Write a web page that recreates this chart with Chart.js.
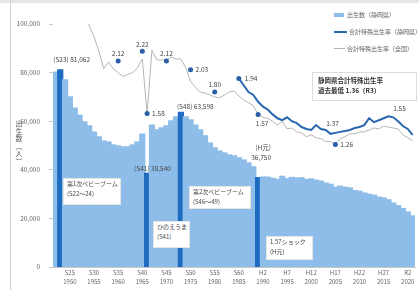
<!DOCTYPE html>
<html>
<head>
<meta charset="utf-8">
<script src="https://cdn.jsdelivr.net/npm/chart.js"></script>
<style>
  html, body { margin: 0; padding: 0; background: #fff; overflow: hidden; }
  #wrap { position: relative; width: 419px; height: 290px; overflow: hidden; font-family: "Noto Sans CJK JP", sans-serif; }
  #wrap canvas { position: absolute; left: 0; top: 0; }
  .frame-top { position: absolute; left: 0; top: 0; width: 419px; height: 3px; background: #e6e6e6; }
  .frame-left { position: absolute; left: 10px; top: 0; width: 1px; height: 290px; background: #d4d4d4; }
  .ytitle { position: absolute; left: 15px; top: 120px; width: 8px; font-size: 7px; line-height: 7.5px; color: #555; text-align: center; }
  .ytitle span { display: block; }
  .note { position: absolute; background: #fff; border: 1px solid #e4e4e4; font-size: 6px; line-height: 10px; color: #444; padding: 0 3px; white-space: nowrap; box-sizing: border-box; }
  .legend { position: absolute; font-size: 6px; color: #666; white-space: nowrap; }
  .legend span { position: absolute; }
  .box { position: absolute; left: 312px; top: 72px; width: 105px; height: 29px; border: 1px solid #dcdcdc; background: #fff; box-sizing: border-box; padding: 2px 5px; font-size: 6.5px; line-height: 10px; font-weight: bold; color: #333; white-space: nowrap; }
</style>
</head>
<body>
<div id="wrap">
  <canvas id="birthChart" width="419" height="290"></canvas>
  <div class="frame-top"></div>
  <div class="frame-left"></div>
  <div class="ytitle"><span>出</span><span>生</span><span>数</span><span>︵</span><span>人</span><span>︶</span></div>

  <div class="note" style="left:63px;top:178px;width:58px;height:27px;">第1次ベビーブーム<br>(S22～24)</div>
  <div class="note" style="left:153px;top:221px;width:37px;height:27px;">ひのえうま<br>(S41)</div>
  <div class="note" style="left:189px;top:186px;width:62px;height:23px;">第2次ベビーブーム<br>(S46～49)</div>
  <div class="note" style="left:266px;top:236px;width:47px;height:24px;">1.57ショック<br>(H元)</div>

  <div class="legend">
    <span style="left:334px;top:13px;width:10px;height:4px;background:#8fbde9;"></span>
    <span style="left:347px;top:10px;">出生数（静岡県）</span>
    <span style="left:334px;top:31px;width:13px;height:2px;background:#2a67b1;"></span>
    <span style="left:349px;top:27px;">合計特殊出生率（静岡県）</span>
    <span style="left:334px;top:48px;width:11px;height:1px;background:#b5b5b5;"></span>
    <span style="left:347px;top:44px;">合計特殊出生率（全国）</span>
  </div>

  <div class="box">静岡県合計特殊出生率<br>過去最低 1.36（R3）</div>
</div>

<script>
    // categories: 1947 - 2021
    const years = [
        1947, 1948, 1949,
        1950, 1951, 1952, 1953, 1954, 1955, 1956, 1957, 1958, 1959,
        1960, 1961, 1962, 1963, 1964, 1965, 1966, 1967, 1968, 1969,
        1970, 1971, 1972, 1973, 1974, 1975, 1976, 1977, 1978, 1979,
        1980, 1981, 1982, 1983, 1984, 1985, 1986, 1987, 1988, 1989,
        1990, 1991, 1992, 1993, 1994, 1995, 1996, 1997, 1998, 1999,
        2000, 2001, 2002, 2003, 2004, 2005, 2006, 2007, 2008, 2009,
        2010, 2011, 2012, 2013, 2014, 2015, 2016, 2017, 2018, 2019,
        2020, 2021
    ];

    // births (prefecture)
    const births = [
        80200, 81062, 77000,
        70000, 65400, 62500, 59700, 58000, 55500, 53500, 51800, 51400, 50200,
        49800, 49400, 49400, 50200, 51400, 54700, 38540, 58400, 56400, 57200,
        58000, 60100, 61700, 63598, 61700, 60500, 58400, 56400, 53900, 51000,
        49000, 47700, 46900, 46100, 45700, 44900, 44000, 42800, 41200, 36750,
        37000, 36900, 36500, 36000, 37300, 36300, 36800, 36600, 36700, 36000,
        36200, 35700, 35300, 34500, 34000, 32800, 33200, 32800, 32500, 31400,
        31100, 30400, 29900, 29500, 28700, 28400, 27600, 26300, 25200, 24000,
        22600, 21000
    ];

    // total fertility rate, whole country
    const tfrNational = [
        4.54, 4.40, 4.32,
        3.65, 3.26, 2.98, 2.69, 2.48, 2.37, 2.22, 2.04, 2.11, 2.04,
        2.00, 1.96, 1.98, 2.00, 2.05, 2.14, 1.58, 2.23, 2.13, 2.13,
        2.13, 2.16, 2.14, 2.14, 2.05, 1.91, 1.85, 1.80, 1.79, 1.77,
        1.75, 1.74, 1.77, 1.80, 1.81, 1.76, 1.72, 1.69, 1.66, 1.57,
        1.54, 1.53, 1.50, 1.46, 1.50, 1.42, 1.43, 1.39, 1.38, 1.34,
        1.36, 1.33, 1.32, 1.29, 1.29, 1.26, 1.32, 1.34, 1.37, 1.37,
        1.39, 1.39, 1.41, 1.43, 1.42, 1.45, 1.44, 1.43, 1.42, 1.36,
        1.33, 1.30
    ];

    // prefecture TFR, yearly from 1985
    const prefStartYear = 1985;
    const tfrPref = [
        1.94, 1.87, 1.80, 1.77, 1.70,
        1.65, 1.62, 1.57, 1.53, 1.51, 1.54, 1.50, 1.48, 1.44, 1.42,
        1.41, 1.46, 1.42, 1.41, 1.37, 1.38, 1.39, 1.40, 1.41, 1.43,
        1.44, 1.46, 1.53, 1.49, 1.51, 1.53, 1.55, 1.54, 1.50, 1.45,
        1.42, 1.36
    ];

    // prefecture TFR before 1985 (single years only)
    const prefDotYears = [1960, 1965, 1966, 1970, 1975, 1980];
    const prefDotValues = [2.12, 2.22, 1.58, 2.12, 2.03, 1.80];

    // highlighted bars
    const highlightYears = [1948, 1966, 1973, 1989];
    const highlightEras = ['S23', 'S41', 'S48', 'H元'];

    // x tick labels
    const tickYears = [1950, 1955, 1960, 1965, 1970, 1975, 1980, 1985, 1990, 1995, 2000, 2005, 2010, 2015, 2020];
    const tickEras = ['S25', 'S30', 'S35', 'S40', 'S45', 'S50', 'S55', 'S60', 'H2', 'H7', 'H12', 'H17', 'H22', 'H27', 'R2'];

    const LIGHT = '#8fbde9';
    const DARK = '#1e6cc0';
    const FONT = '"Noto Sans CJK JP", sans-serif';

    Chart.defaults.font.family = FONT;

    // align the sparse series with the year axis
    const prefLine = years.map(y => {
        const k = y - prefStartYear;
        return k >= 0 && k < tfrPref.length ? tfrPref[k] : null;
    });
    const prefDots = years.map(y => {
        const k = prefDotYears.indexOf(y);
        return k < 0 ? null : prefDotValues[k];
    });
    const barColors = years.map(y => highlightYears.includes(y) ? DARK : LIGHT);

    // where value labels go (dataset index, year, offset)
    const tfrNotes = [
        { ds: 1, year: 1960, dx: 0, dy: -7, align: 'center' },
        { ds: 1, year: 1965, dx: 0, dy: -7, align: 'center' },
        { ds: 1, year: 1966, dx: 5, dy: 0, align: 'left' },
        { ds: 1, year: 1970, dx: 0, dy: -7, align: 'center' },
        { ds: 1, year: 1975, dx: 5, dy: 0, align: 'left' },
        { ds: 1, year: 1980, dx: 0, dy: -8, align: 'center' },
        { ds: 2, year: 1985, dx: 6, dy: 0, align: 'left' },
        { ds: 2, year: 2004, dx: 2, dy: -10, align: 'center' },
        { ds: 2, year: 2016, dx: 11, dy: -8, align: 'center' },
        { ds: 3, year: 1989, dx: 4, dy: 9, align: 'center' },
        { ds: 3, year: 2005, dx: 5, dy: 0, align: 'left' }
    ];
    const birthNotes = [
        { year: 1948, dx: -7, dy: -10, align: 'left', split: false },
        { year: 1966, dx: -13, dy: -5, align: 'left', split: false },
        { year: 1973, dx: -4, dy: -6, align: 'left', split: false },
        { year: 1989, dx: 3, dy: -20, align: 'center', split: true }
    ];

    const valueLabels = {
        id: 'valueLabels',
        afterDatasetsDraw(chart) {
            const ctx = chart.ctx;
            ctx.save();
            ctx.font = '6.5px ' + FONT;
            ctx.fillStyle = '#444';
            ctx.textBaseline = 'middle';

            tfrNotes.forEach(n => {
                const i = years.indexOf(n.year);
                const pt = chart.getDatasetMeta(n.ds).data[i];
                const v = chart.data.datasets[n.ds].data[i];
                if (!pt || v == null) return;
                ctx.textAlign = n.align;
                ctx.fillText(v.toFixed(2), pt.x + n.dx, pt.y + n.dy);
            });

            const bars = chart.getDatasetMeta(0).data;
            birthNotes.forEach(n => {
                const i = years.indexOf(n.year);
                const era = highlightEras[highlightYears.indexOf(n.year)];
                const txt = births[i].toLocaleString('en-US');
                const b = bars[i];
                ctx.textAlign = n.align;
                if (n.split) {
                    ctx.fillText('(' + era + ')', b.x + n.dx + 2, b.y + n.dy - 10);
                    ctx.fillText(txt, b.x + n.dx, b.y + n.dy);
                } else {
                    ctx.fillText('(' + era + ') ' + txt, b.x + n.dx, b.y + n.dy);
                }
            });
            ctx.restore();
        }
    };

    const ctx = document.getElementById('birthChart').getContext('2d');
    new Chart(ctx, {
        data: {
            labels: years,
            datasets: [
                {
                    type: 'bar',
                    label: '出生数（静岡県）',
                    data: births,
                    backgroundColor: barColors,
                    borderWidth: 0,
                    inflateAmount: 0.7,
                    barPercentage: 1,
                    categoryPercentage: 1,
                    yAxisID: 'y',
                    order: 5
                },
                {
                    type: 'line',
                    label: 'dots',
                    data: prefDots,
                    showLine: false,
                    pointRadius: 2.5,
                    pointBackgroundColor: '#2a5fa5',
                    pointBorderWidth: 0,
                    yAxisID: 'y1',
                    order: 1
                },
                {
                    type: 'line',
                    label: '合計特殊出生率（静岡県）',
                    data: prefLine,
                    borderColor: '#2a67b1',
                    borderWidth: 2,
                    pointRadius: prefLine.map((v, i) => years[i] === prefStartYear ? 2.5 : 0),
                    pointBackgroundColor: '#2a5fa5',
                    pointBorderWidth: 0,
                    tension: 0,
                    spanGaps: false,
                    yAxisID: 'y1',
                    order: 2
                },
                {
                    type: 'line',
                    label: '合計特殊出生率（全国）',
                    data: tfrNational,
                    borderColor: '#b5b5b5',
                    borderWidth: 1,
                    pointRadius: tfrNational.map((v, i) => (years[i] === 1989 || years[i] === 2005) ? 2.5 : 0),
                    pointBackgroundColor: '#2a5fa5',
                    pointBorderWidth: 0,
                    tension: 0,
                    yAxisID: 'y1',
                    order: 3
                }
            ]
        },
        options: {
            responsive: false,
            animation: false,
            layout: { padding: { top: 24, right: 0, left: 0, bottom: 0 } },
            plugins: {
                legend: { display: false },
                tooltip: { enabled: false }
            },
            scales: {
                x: {
                    type: 'category',
                    offset: true,
                    grid: { display: false, drawTicks: false },
                    border: { color: '#c8c8c8' },
                    ticks: {
                        autoSkip: false,
                        maxRotation: 0,
                        minRotation: 0,
                        padding: 2,
                        color: '#666',
                        font: { size: 6, lineHeight: 1.4 },
                        callback: function (value, index) {
                            const k = tickYears.indexOf(years[index]);
                            return k < 0 ? '' : [tickEras[k], String(tickYears[k])];
                        }
                    },
                    afterFit: function (scale) { scale.height = 23; }
                },
                y: {
                    min: 0,
                    max: 100000,
                    grid: { drawOnChartArea: false, tickLength: 4, color: '#c8c8c8' },
                    border: { display: false },
                    ticks: {
                        stepSize: 20000,
                        padding: 9,
                        color: '#666',
                        font: { size: 6.5 },
                        callback: v => v.toLocaleString('en-US')
                    },
                    afterFit: function (scale) { scale.width = 53; }
                },
                y1: {
                    display: false,
                    position: 'right',
                    min: 0,
                    max: 2.5
                }
            }
        },
        plugins: [valueLabels]
    });
</script>
</body>
</html>
